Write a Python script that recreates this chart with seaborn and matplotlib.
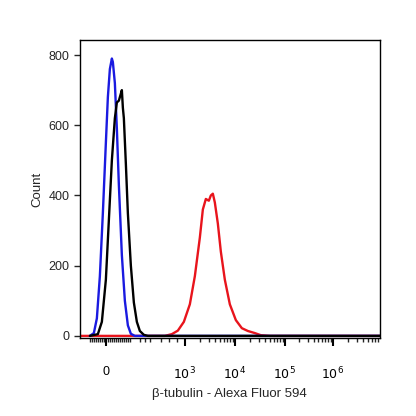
import numpy as np
import pandas as pd
import seaborn as sns
import matplotlib
matplotlib.use("Agg")
import matplotlib.pyplot as plt

# x in display units of the biexponential axis (0..300)
blue_x = [10, 14, 17, 20, 23, 26, 28, 30, 32, 33, 35, 37, 39, 42, 45, 48, 51, 55, 60, 300]
blue_y = [0, 8, 50, 170, 350, 550, 680, 760, 790, 780, 720, 590, 430, 230, 100, 30, 6, 0, 0, 0]
black_x = [10, 18, 22, 26, 29, 32, 35, 37, 39, 40, 41, 42, 43, 44, 46, 48, 51, 54, 57, 60, 64, 68, 300]
black_y = [0, 5, 40, 160, 330, 500, 620, 665, 670, 680, 690, 700, 650, 620, 490, 350, 200, 95, 40, 14, 3, 0, 0]
red_x = [0, 85, 92, 98, 104, 110, 115, 120, 123, 126, 129, 131, 133, 135, 138, 141, 145, 150, 156, 162, 168, 175, 181, 190, 300]
red_y = [0, 0, 5, 15, 40, 90, 170, 280, 360, 390, 385, 400, 405, 380, 320, 240, 160, 90, 45, 22, 14, 8, 2, 0, 0]

tick_pos = [26, 105, 155, 205, 253]
tick_labels = ["0", "$10^3$", "$10^4$", "$10^5$", "$10^6$"]

sns.set_theme(style="ticks")
plt.rcParams["font.family"] = ["Liberation Sans", "DejaVu Sans"]

fig = plt.figure(figsize=(4.16, 4.16), dpi=100)
ax = fig.add_axes([0.192, 0.1875, 0.721, 0.7165])

for xs, ys, col in [(red_x, red_y, "#e8141c"), (blue_x, blue_y, "#1a1ae0"), (black_x, black_y, "black")]:
    df = pd.DataFrame({"x": xs, "y": ys})
    sns.lineplot(data=df, x="x", y="y", color=col, lw=1.7, ax=ax)

ax.set_xlim(0, 300)
ax.set_ylim(-6, 843)
ax.set_yticks([0, 200, 400, 600, 800])
ax.set_xticks(tick_pos)
ax.set_xticklabels(tick_labels)
minor = list(np.linspace(10, 50, 21))
for a, b in zip(tick_pos[1:], tick_pos[2:] + [303]):
    minor += [a + (b - a) * np.log10(k) for k in range(2, 10)]
minor += [105 - 79 * 0.5, 105 - 79 * 0.3, 105 - 79 * 0.2, 105 - 79 * 0.1, 60, 70]
ax.set_xticks([m for m in minor if m < 300], minor=True)
ax.tick_params(axis="x", which="major", length=6, width=1.5, labelsize=9, pad=14, colors="black")
ax.tick_params(axis="x", which="minor", length=3, width=1)
ax.tick_params(axis="y", length=4, width=1, labelsize=9)
for s in ax.spines.values():
    s.set_linewidth(1)
    s.set_color("black")
ax.set_xlabel("β-tubulin - Alexa Fluor 594", fontsize=9.5)
ax.set_ylabel("Count", fontsize=9.5)
fig.savefig("out.png", dpi=100)
